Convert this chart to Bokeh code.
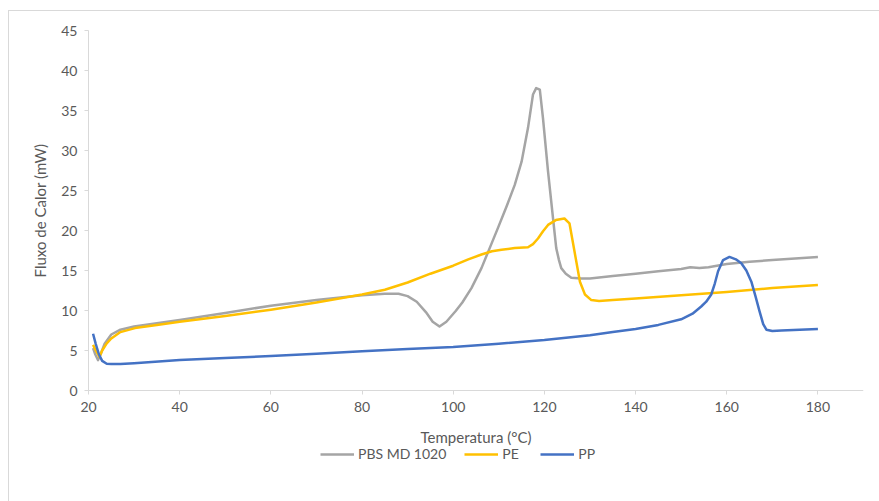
from bokeh.plotting import figure
from bokeh.models import Legend, LegendItem, FixedTicker, Range1d
from bokeh.embed import file_html
from bokeh.resources import INLINE

# ---- data ----
pbs_t = [21.0, 21.5, 22.1, 22.7, 23.5, 25, 27, 30, 35, 40, 50, 60, 70, 80, 85, 88, 90, 92, 94, 95.5,
         97, 98.5, 100.5, 102, 104, 106.2, 108, 109.8, 111.7, 113.5, 115, 116.4, 117.5, 118.2,
         119.0, 119.7, 120.8, 121.9, 122.6, 123.2, 123.7, 124.7, 125.9, 128.1, 130,
         135, 140, 145, 150, 152, 154, 156, 160, 165, 170, 175, 180]
pbs_v = [5.3, 4.5, 3.8, 4.6, 5.8, 7.0, 7.6, 8.0, 8.4, 8.8, 9.7, 10.6, 11.3, 11.9, 12.1, 12.1, 11.8, 11.1, 9.8, 8.6,
         8.0, 8.6, 9.9, 11.0, 12.8, 15.3, 17.8, 20.3, 23.0, 25.7, 28.6, 32.8, 37.0, 37.8,
         37.6, 34.0, 27.4, 21.5, 17.8, 16.3, 15.3, 14.6, 14.1, 14.0, 14.0,
         14.3, 14.6, 14.9, 15.2, 15.4, 15.3, 15.4, 15.8, 16.1, 16.3, 16.5, 16.7]

pe_t = [21.0, 21.6, 22.4, 23.0, 24, 25, 27, 30.2, 35, 40, 50, 60, 70, 80, 85, 90, 95, 100, 103.3,
        106.2, 108.5, 110.6, 113.5, 116.4, 117.5, 118.6, 119.7, 120.8, 122.5, 124.4, 125.5, 126.6,
        127.8, 128.9, 130.3, 132, 135, 140, 150, 160, 170, 180]
pe_v = [5.7, 5.0, 4.2, 5.0, 5.9, 6.5, 7.3, 7.8, 8.2, 8.6, 9.3, 10.1, 11.0, 12.0, 12.6, 13.5, 14.6, 15.6, 16.4,
        17.0, 17.4, 17.6, 17.8, 17.9, 18.3, 19.0, 19.9, 20.7, 21.3, 21.5, 20.9, 17.4,
        13.6, 12.0, 11.3, 11.2, 11.3, 11.5, 11.9, 12.3, 12.8, 13.2]

pp_t = [21.0, 21.6, 22.3, 23, 24, 25, 27, 30, 40, 50, 60, 70, 80, 90, 100, 110, 120, 130, 135, 140,
        145, 150, 152.5, 154.4, 155.5, 156.6, 157.4, 158.1, 159.2, 160.6, 162, 163.2, 164.3,
        165.4, 166.3, 167.2, 168.0, 168.7, 170, 172, 176, 180]
pp_v = [7.1, 5.8, 4.5, 3.7, 3.35, 3.3, 3.3, 3.4, 3.8, 4.05, 4.3, 4.6, 4.9, 5.2, 5.45, 5.85, 6.3, 6.9, 7.3, 7.7,
        8.2, 8.9, 9.6, 10.5, 11.1, 12.0, 13.4, 14.9, 16.3, 16.7, 16.4, 15.9, 15.0,
        13.6, 11.8, 9.9, 8.3, 7.6, 7.45, 7.5, 7.6, 7.7]

x_ticks = [20, 40, 60, 80, 100, 120, 140, 160, 180]
y_ticks = [0, 5, 10, 15, 20, 25, 30, 35, 40, 45]
series_names = ["PBS MD 1020", "PE", "PP"]
colors = ["#A5A5A5", "#FFC000", "#4472C4"]

FONT = "Lato"
TXT = "#595959"
AX = "#D9D9D9"

# frame covers the whole chart area so that axis texts and legend are not clipped;
# axes are pinned at x=20 and y=0
p = figure(width=871, height=491, output_backend="svg", toolbar_location=None,
           x_range=Range1d(3.11, 190), y_range=Range1d(-13.75, 47.125),
           min_border_left=2, min_border_right=17, min_border_top=2, min_border_bottom=2)
p.margin = (10, 0, 0, 8)
p.styles = {"border-top": "1px solid #D9D9D9", "border-left": "1px solid #D9D9D9"}
p.outline_line_color = None
p.grid.visible = False
p.background_fill_color = "white"
p.border_fill_color = "white"

r1 = p.line(pbs_t, pbs_v, line_color=colors[0], line_width=2.5, line_join="round")
r2 = p.line(pe_t, pe_v, line_color=colors[1], line_width=2.5, line_join="round")
r3 = p.line(pp_t, pp_v, line_color=colors[2], line_width=2.5, line_join="round")

for ax in (p.xaxis[0], p.yaxis[0]):
    ax.axis_line_color = AX
    ax.major_tick_line_color = AX
    ax.minor_tick_line_color = None
    ax.major_tick_in = 0
    ax.major_tick_out = 4
    ax.major_label_text_font = FONT
    ax.major_label_text_font_size = "14px"
    ax.major_label_text_color = TXT
    ax.axis_label_text_font = FONT
    ax.axis_label_text_font_size = "15px"
    ax.axis_label_text_font_style = "normal"
    ax.axis_label_text_color = TXT

p.xaxis[0].ticker = FixedTicker(ticks=x_ticks)
p.yaxis[0].ticker = FixedTicker(ticks=y_ticks)
p.xaxis[0].fixed_location = 0
p.yaxis[0].fixed_location = 20
p.xaxis[0].bounds = (20, 190)
p.yaxis[0].bounds = (0, 45)
p.xaxis[0].axis_label = "Temperatura (°C)"
p.yaxis[0].axis_label = "Fluxo de Calor (mW)"
p.xaxis[0].major_label_standoff = 7
p.yaxis[0].major_label_standoff = 7
p.xaxis[0].axis_label_standoff = 13
p.yaxis[0].axis_label_standoff = 9

legend = Legend(items=[LegendItem(label=series_names[0], renderers=[r1]),
                       LegendItem(label=series_names[1], renderers=[r2]),
                       LegendItem(label=series_names[2], renderers=[r3])],
                orientation="horizontal", location=(309, 38),
                border_line_color=None, background_fill_alpha=0,
                padding=0, margin=0, spacing=18, glyph_width=34, glyph_height=16,
                label_height=16, label_standoff=4,
                label_text_font=FONT, label_text_font_size="14px", label_text_color=TXT)
p.add_layout(legend, "center")

open("out.html", "w").write(file_html(p, INLINE))
